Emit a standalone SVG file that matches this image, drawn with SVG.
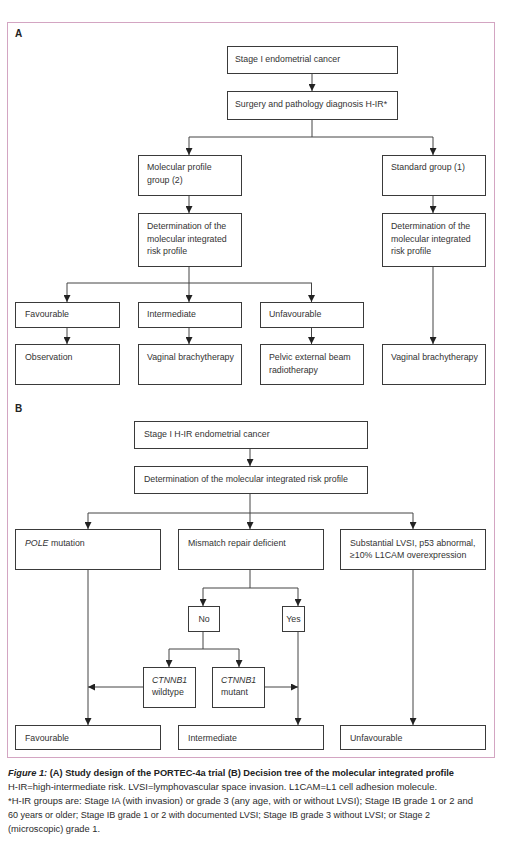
<svg xmlns="http://www.w3.org/2000/svg" width="513" height="846" viewBox="0 0 513 846">
<style>
  .bx { fill: #ffffff; stroke: #3a3a3a; stroke-width: 1; }
  .t { font-family: "Liberation Sans", Arial, sans-serif; font-size: 8.8px; fill: #333333; }
  .tc { text-anchor: middle; }
  .lbl { font-family: "Liberation Sans", Arial, sans-serif; font-size: 10px; font-weight: bold; fill: #222222; }
  .cap { font-family: "Liberation Sans", Arial, sans-serif; font-size: 9.2px; fill: #2a2a2a; }
  .capb { font-family: "Liberation Sans", Arial, sans-serif; font-size: 9.2px; font-weight: bold; fill: #222222; }
  .ln { fill: none; stroke: #444444; stroke-width: 1; }
  .ar { fill: none; stroke: #444444; stroke-width: 1; marker-end: url(#ah); }
</style>
<defs>
  <marker id="ah" markerUnits="userSpaceOnUse" markerWidth="7" markerHeight="7" viewBox="0 0 7 7" refX="7" refY="3.5" orient="auto">
    <path d="M0,0 L7,3.5 L0,7 z" fill="#222222"/>
  </marker>
</defs>
<rect x="0" y="0" width="513" height="846" fill="#ffffff"/>
<rect x="7.5" y="22.5" width="487" height="735" fill="none" stroke="#d3a5c2" stroke-width="1"/>
<text class="lbl" x="15" y="37">A</text>
<text class="lbl" x="15" y="412">B</text>

<g id="connectors">
  <path class="ar" d="M312,73 V91"/>
  <path class="ln" d="M312,119 V137 M189,137 H433"/>
  <path class="ar" d="M189,137 V155"/>
  <path class="ar" d="M433,137 V155"/>
  <path class="ar" d="M189,195 V213"/>
  <path class="ar" d="M433,195 V213"/>
  <path class="ln" d="M189,266 V283 M67,283 H312"/>
  <path class="ar" d="M67,283 V302"/>
  <path class="ar" d="M189,283 V302"/>
  <path class="ar" d="M311.5,283 V302"/>
  <path class="ar" d="M67,327 V344"/>
  <path class="ar" d="M189,327 V344"/>
  <path class="ar" d="M311.5,327 V344"/>
  <path class="ar" d="M433,266 V344"/>

  <path class="ar" d="M250,448 V466"/>
  <path class="ln" d="M250,493 V513 M88,513 H413"/>
  <path class="ar" d="M88,513 V529"/>
  <path class="ar" d="M250,513 V529"/>
  <path class="ar" d="M413,513 V529"/>
  <path class="ln" d="M250,569 V588 M203,588 H298"/>
  <path class="ar" d="M203,588 V606"/>
  <path class="ar" d="M298,588 V606"/>
  <path class="ln" d="M203,631 V649 M169,649 H239"/>
  <path class="ar" d="M169,649 V667"/>
  <path class="ar" d="M239,649 V667"/>
  <path class="ar" d="M143,687 H88"/>
  <path class="ar" d="M264,687 H298"/>
  <path class="ar" d="M88,569 V725"/>
  <path class="ar" d="M298,631 V725"/>
  <path class="ar" d="M413,569 V725"/>
</g>

<g id="a1"><rect class="bx" x="227.5" y="46.5" width="170" height="27"/><text class="t" x="235" y="62">Stage I endometrial cancer</text></g>
<g id="a2"><rect class="bx" x="227.5" y="91.5" width="170" height="28"/><text class="t" x="235" y="107">Surgery and pathology diagnosis H-IR*</text></g>
<g id="a3"><rect class="bx" x="138.5" y="155.5" width="103" height="40"/><text class="t" x="147" y="170">Molecular profile</text><text class="t" x="147" y="182.5">group (2)</text></g>
<g id="a4"><rect class="bx" x="382.5" y="155.5" width="103" height="40"/><text class="t" x="391" y="170">Standard group (1)</text></g>
<g id="a5"><rect class="bx" x="138.5" y="213.5" width="103" height="53"/><text class="t" x="147" y="229">Determination of the</text><text class="t" x="147" y="241.5">molecular integrated</text><text class="t" x="147" y="254">risk profile</text></g>
<g id="a6"><rect class="bx" x="382.5" y="213.5" width="103" height="53"/><text class="t" x="391" y="229">Determination of the</text><text class="t" x="391" y="241.5">molecular integrated</text><text class="t" x="391" y="254">risk profile</text></g>
<g id="a7"><rect class="bx" x="15.5" y="302.5" width="104" height="25"/><text class="t" x="25" y="316.5">Favourable</text></g>
<g id="a8"><rect class="bx" x="138.5" y="302.5" width="103" height="25"/><text class="t" x="147" y="316.5">Intermediate</text></g>
<g id="a9"><rect class="bx" x="260.5" y="302.5" width="103" height="25"/><text class="t" x="269" y="316.5">Unfavourable</text></g>
<g id="a10"><rect class="bx" x="15.5" y="344.5" width="104" height="40"/><text class="t" x="25" y="360">Observation</text></g>
<g id="a11"><rect class="bx" x="138.5" y="344.5" width="103" height="40"/><text class="t" x="147" y="360">Vaginal brachytherapy</text></g>
<g id="a12"><rect class="bx" x="260.5" y="344.5" width="103" height="40"/><text class="t" x="269" y="360">Pelvic external beam</text><text class="t" x="269" y="373">radiotherapy</text></g>
<g id="a13"><rect class="bx" x="382.5" y="344.5" width="103" height="40"/><text class="t" x="391" y="360">Vaginal brachytherapy</text></g>

<g id="b1"><rect class="bx" x="134.5" y="421.5" width="233" height="27"/><text class="t" x="144" y="437">Stage I H-IR endometrial cancer</text></g>
<g id="b2"><rect class="bx" x="134.5" y="466.5" width="233" height="27"/><text class="t" x="144" y="482">Determination of the molecular integrated risk profile</text></g>
<g id="b3"><rect class="bx" x="15.5" y="529.5" width="145" height="40"/><text class="t" x="25" y="546"><tspan font-style="italic">POLE</tspan> mutation</text></g>
<g id="b4"><rect class="bx" x="178.5" y="529.5" width="145" height="40"/><text class="t" x="188" y="546">Mismatch repair deficient</text></g>
<g id="b5"><rect class="bx" x="340.5" y="529.5" width="145" height="40"/><text class="t" x="350" y="546">Substantial LVSI, p53 abnormal,</text><text class="t" x="350" y="558">≥10% L1CAM overexpression</text></g>
<g id="b6"><rect class="bx" x="188.5" y="606.5" width="31" height="25"/><text class="t tc" x="204" y="621.5">No</text></g>
<g id="b7"><rect class="bx" x="282.5" y="606.5" width="22" height="25"/><text class="t tc" x="293.5" y="621.5">Yes</text></g>
<g id="b8"><rect class="bx" x="143.5" y="667.5" width="52" height="40"/><text class="t" x="152" y="683" font-style="italic">CTNNB1</text><text class="t" x="152" y="695">wildtype</text></g>
<g id="b9"><rect class="bx" x="212.5" y="667.5" width="52" height="40"/><text class="t" x="221" y="683" font-style="italic">CTNNB1</text><text class="t" x="221" y="695">mutant</text></g>
<g id="b10"><rect class="bx" x="15.5" y="725.5" width="145" height="24"/><text class="t" x="25" y="741">Favourable</text></g>
<g id="b11"><rect class="bx" x="178.5" y="725.5" width="145" height="24"/><text class="t" x="188" y="741">Intermediate</text></g>
<g id="b12"><rect class="bx" x="340.5" y="725.5" width="145" height="24"/><text class="t" x="350" y="741">Unfavourable</text></g>

<g id="caption">
  <text class="capb" x="8" y="776" textLength="446" lengthAdjust="spacingAndGlyphs"><tspan font-style="italic">Figure 1:</tspan> (A) Study design of the PORTEC-4a trial (B) Decision tree of the molecular integrated profile</text>
  <text class="cap" x="8" y="790" textLength="429" lengthAdjust="spacingAndGlyphs">H-IR=high-intermediate risk. LVSI=lymphovascular space invasion. L1CAM=L1 cell adhesion molecule.</text>
  <text class="cap" x="8" y="804" textLength="465" lengthAdjust="spacingAndGlyphs">*H-IR groups are: Stage IA (with invasion) or grade 3 (any age, with or without LVSI); Stage IB grade 1 or 2 and</text>
  <text class="cap" x="8" y="818" textLength="422" lengthAdjust="spacingAndGlyphs">60 years or older; Stage IB grade 1 or 2 with documented LVSI; Stage IB grade 3 without LVSI; or Stage 2</text>
  <text class="cap" x="8" y="832" textLength="92" lengthAdjust="spacingAndGlyphs">(microscopic) grade 1.</text>
</g>
</svg>
